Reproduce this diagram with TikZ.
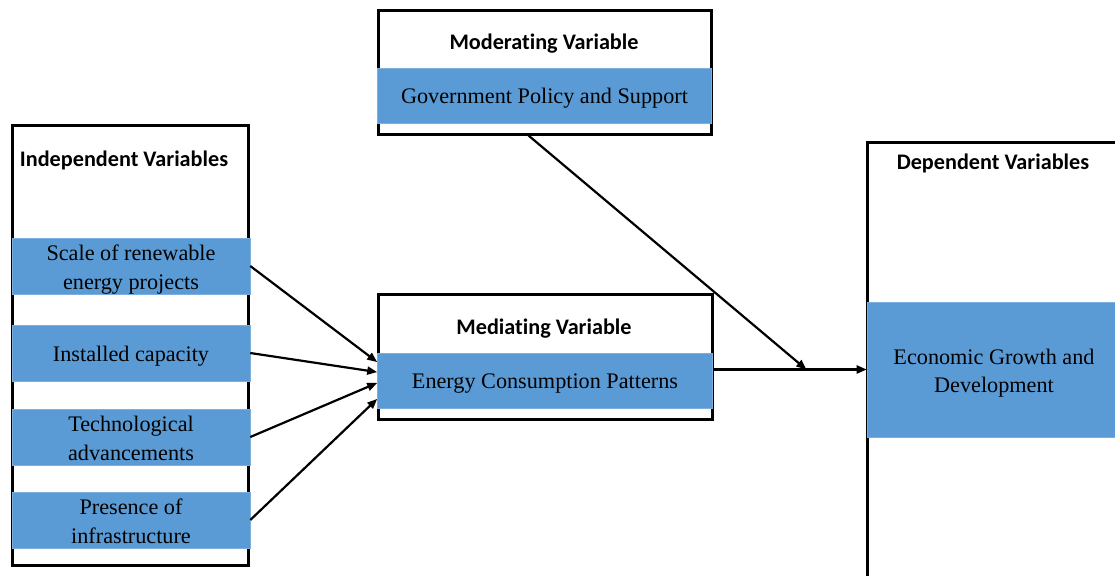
\documentclass[tikz,border=0pt]{standalone}
\usepackage{fontspec}
\setmainfont{Liberation Serif}
\newfontfamily\headfont[Ligatures=NoCommon]{Carlito}
\usepackage{tikz}
\usetikzlibrary{arrows.meta, positioning}
\definecolor{bandblue}{HTML}{5B9BD5}
% two centred lines, pushed a little below the middle of the band
\newcommand{\twolines}[2]{\raisebox{-6pt}[0pt][0pt]{\begin{tabular}{@{}c@{}}#1\\#2\end{tabular}}}

\begin{document}
\begin{tikzpicture}[
    frame/.style={draw=black, line width=0.075cm, inner sep=0pt},
    band/.style={fill=bandblue, draw=bandblue!80!white, line width=0.4pt, inner sep=0pt,
                 align=center, font=\fontsize{15.8}{20.2}\selectfont},
    heading/.style={font=\headfont\bfseries\fontsize{15.8}{18}\selectfont},
    link/.style={line width=0.055cm, -{Triangle[length=0.25cm, width=0.2cm]}}
  ]
  \useasboundingbox (0,0) rectangle (27.875,-14.4);

  % outer frames
  \node[frame, minimum width=5.9cm, minimum height=11cm] (indepframe) at (3.25,-8.625) {};
  \node[frame, minimum width=8.325cm, minimum height=3.1cm] (modframe) at (13.6125,-1.8) {};
  \node[frame, minimum width=8.35cm, minimum height=3.125cm] (medframe) at (13.625,-8.9125) {};
  \node[frame, minimum width=6.65cm, minimum height=11.9cm] (depframe) at (25,-9.5) {};

  % independent variables
  \node[heading] (indeptitle) at (3.1,-4.0) {Independent Variables};
  \node[band, minimum width=5.95cm, minimum height=1.4cm] (scale) at (3.275,-6.65) {\twolines{Scale of renewable}{energy projects}};
  \node[band, minimum width=5.95cm, minimum height=1.4cm] (capacity) at (3.275,-8.825) {\rule{0pt}{15pt}Installed capacity};
  \node[band, minimum width=5.95cm, minimum height=1.4cm] (tech) at (3.275,-10.925) {\twolines{Technological}{advancements}};
  \node[band, minimum width=5.95cm, minimum height=1.4cm] (infra) at (3.275,-13.0) {\twolines{Presence of}{infrastructure}};

  % moderating variable
  \node[heading] (modtitle) at (13.6,-1.1) {Moderating Variable};
  \node[band, minimum width=8.35cm, minimum height=1.375cm] (policy) at (13.6125,-2.39) {\rule{0pt}{15pt}Government Policy and Support};

  % mediating variable
  \node[heading] (medtitle) at (13.6,-8.225) {Mediating Variable};
  \node[band, minimum width=8.375cm, minimum height=1.375cm] (ecp) at (13.625,-9.5125) {\rule{0pt}{15pt}Energy Consumption Patterns};

  % dependent variables
  \node[heading] (deptitle) at (24.825,-4.075) {Dependent Variables};
  \node[band, minimum width=6.35cm, minimum height=3.375cm] (growth) at (24.85,-9.2375) {\twolines{Economic Growth and}{Development}};

  % links
  \foreach \src/\dy in {scale/0.46, capacity/0.21, tech/-0.06, infra/-0.46}
    \draw[link] (\src.east) -- ([yshift=\dy cm]ecp.west);
  \draw[link] (medframe.east |- growth.west) -- coordinate[pos=0.606] (meet) (growth.west);
  \draw[link] ([xshift=-0.4cm]modframe.south) -- (meet);
\end{tikzpicture}
\end{document}
